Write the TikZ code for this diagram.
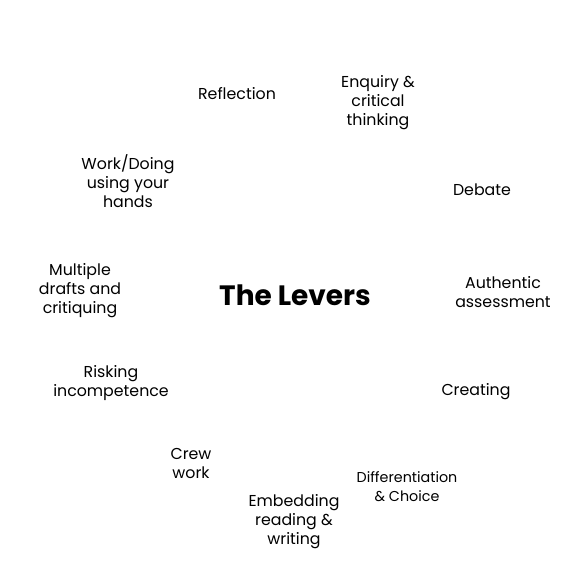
\documentclass[tikz,border=0pt]{standalone}
\usepackage{fontspec}
\setmainfont{Poppins}
\begin{document}
\begin{tikzpicture}[x=1pt,y=-1pt,
  lbl/.style={align=center,inner sep=0pt,font=\fontsize{15.8}{19}\selectfont},
  small/.style={align=center,inner sep=0pt,font=\fontsize{14.3}{19}\selectfont},
  title/.style={inner sep=0pt,font=\fontsize{28}{30}\selectfont\bfseries}]
\useasboundingbox[fill=white] (0,0) rectangle (587,585);
\node[title] (levers) at (295,295) {The Levers};
\node[lbl] (refl) at (237,94) {Reflection};
\node[lbl] (enq) at (378,103) {Enquiry \&\\critical\\thinking};
\node[lbl] (work) at (128,181) {Work/Doing\\using your\\hands};
\node[lbl] (debate) at (482,190) {Debate};
\node[lbl] (drafts) at (80,291) {Multiple\\drafts and\\critiquing};
\node[lbl] (auth) at (503,292) {Authentic\\assessment};
\node[lbl] (risk) at (111,383) {Risking\\incompetence};
\node[lbl] (create) at (476,392) {Creating};
\node[lbl] (crew) at (191,463) {Crew\\work};
\node[small] (diff) at (407,487) {Differentiation\\\& Choice};
\node[lbl] (embed) at (294,522) {Embedding\\reading \&\\writing};
\end{tikzpicture}
\end{document}
